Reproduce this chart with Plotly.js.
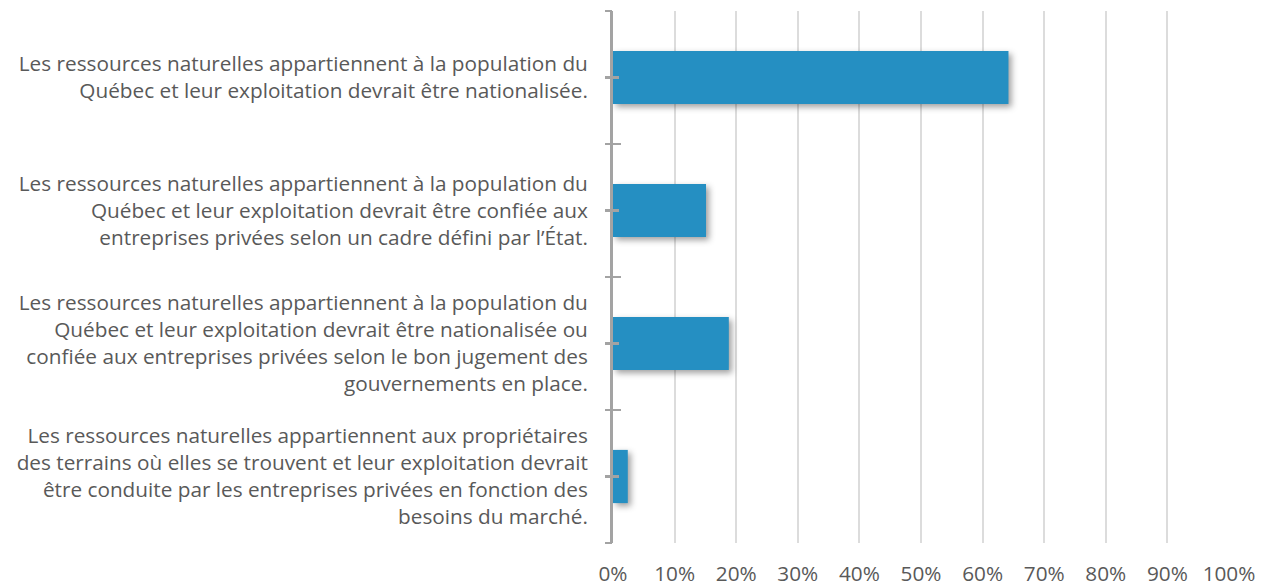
<!DOCTYPE html>
<html>
<head>
<meta charset="utf-8">
<script src="https://cdn.plot.ly/plotly-3.0.1.min.js"></script>
<style>
  html, body { margin: 0; padding: 0; background: #ffffff; }
  #chart { width: 1266px; height: 586px; }
  #chart .bars .point path { filter: drop-shadow(3px 3px 3px rgba(0,0,0,0.38)); }
</style>
</head>
<body>
<div id="chart"></div>
<script>
// ---- data ----
const categories = [
  "Les ressources naturelles appartiennent à la population du<br>Québec et leur exploitation devrait être nationalisée.",
  "Les ressources naturelles appartiennent à la population du<br>Québec et leur exploitation devrait être confiée aux<br>entreprises privées selon un cadre défini par l’État.",
  "Les ressources naturelles appartiennent à la population du<br>Québec et leur exploitation devrait être nationalisée ou<br>confiée aux entreprises privées selon le bon jugement des<br>gouvernements en place.",
  "Les ressources naturelles appartiennent aux propriétaires<br>des terrains où elles se trouvent et leur exploitation devrait<br>être conduite par les entreprises privées en fonction des<br>besoins du marché."
];
const values = [0.642, 0.151, 0.188, 0.024];
const xTickValues = [0, 0.1, 0.2, 0.3, 0.4, 0.5, 0.6, 0.7, 0.8, 0.9, 1.0];
const xTickLabels = ["0%", "10%", "20%", "30%", "40%", "50%", "60%", "70%", "80%", "90%", "100%"];

// ---- derived ----
const idx = categories.map((_, i) => i);
const bounds = categories.map((_, i) => i - 0.5).concat([categories.length - 0.5]);
const yRange = [categories.length - 0.5, -0.5];

const axisGray = "#a3a3a3";
const textGray = "#595959";
const fontFam = "'Open Sans', 'Segoe UI', sans-serif";
const fontSize = 20.75;

const traces = [
  {
    type: "bar",
    orientation: "h",
    x: values,
    y: idx,
    width: 0.4,
    marker: { color: "#258fc2", line: { width: 0 } },
    hoverinfo: "skip",
    showlegend: false
  },
  { type: "scatter", x: [], y: [], yaxis: "y2", showlegend: false, hoverinfo: "skip" },
  { type: "scatter", x: [], y: [], yaxis: "y3", showlegend: false, hoverinfo: "skip" },
  { type: "scatter", x: [], y: [], yaxis: "y4", showlegend: false, hoverinfo: "skip" }
];

const overlayBase = {
  overlaying: "y",
  anchor: "x",
  side: "left",
  range: yRange,
  showgrid: false,
  zeroline: false,
  showline: false,
  showticklabels: false,
  tickmode: "array",
  tickcolor: axisGray,
  tickwidth: 2.5,
  fixedrange: true
};

const layout = {
  width: 1266,
  height: 586,
  margin: { l: 613, r: 37, t: 11, b: 43, pad: 0 },
  paper_bgcolor: "#ffffff",
  plot_bgcolor: "#ffffff",
  font: { family: fontFam, color: textGray, size: fontSize },
  showlegend: false,
  xaxis: {
    range: [0, 1],
    tickmode: "array",
    tickvals: xTickValues,
    ticktext: xTickLabels,
    showgrid: true,
    gridcolor: "#dcdcdc",
    gridwidth: 2,
    zeroline: false,
    showline: false,
    ticks: "",
    ticklabelstandoff: 16,
    tickfont: { family: fontFam, color: textGray, size: fontSize },
    fixedrange: true
  },
  yaxis: {
    range: yRange,
    tickmode: "array",
    tickvals: idx,
    ticktext: categories,
    ticks: "outside",
    ticklen: 5,
    tickwidth: 2.5,
    tickcolor: axisGray,
    showline: true,
    linecolor: axisGray,
    linewidth: 3,
    showgrid: false,
    zeroline: false,
    ticklabelstandoff: 13,
    tickfont: { family: fontFam, color: textGray, size: fontSize },
    fixedrange: true
  },
  yaxis2: Object.assign({}, overlayBase, { tickvals: idx, ticks: "inside", ticklen: 6 }),
  yaxis3: Object.assign({}, overlayBase, { tickvals: bounds, ticks: "outside", ticklen: 7 }),
  yaxis4: Object.assign({}, overlayBase, { tickvals: bounds, ticks: "inside", ticklen: 8 })
};

Plotly.newPlot("chart", traces, layout, { displayModeBar: false, staticPlot: true });
</script>
</body>
</html>
